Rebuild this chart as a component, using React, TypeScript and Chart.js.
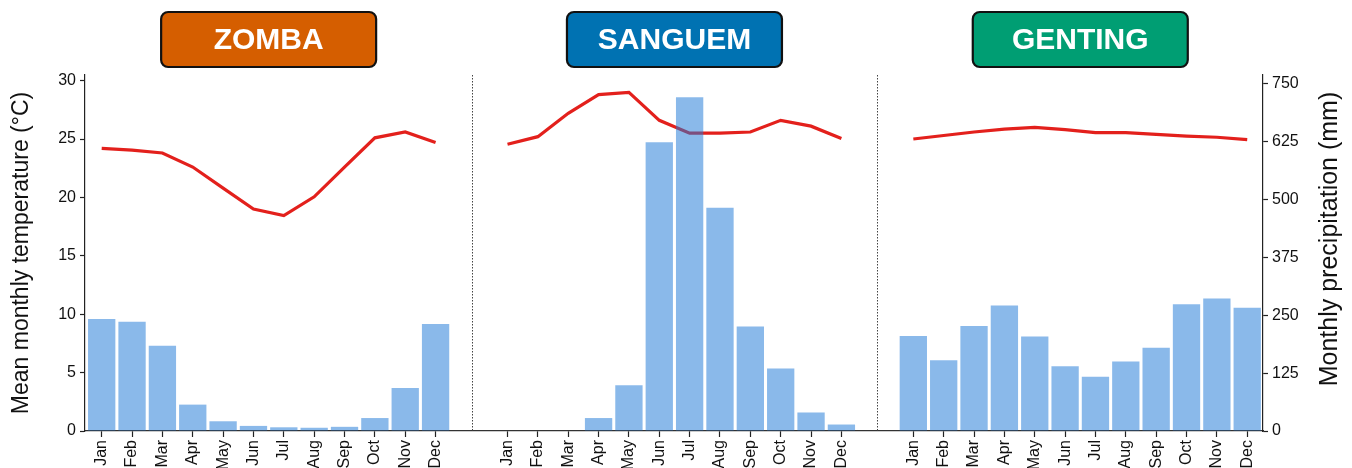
import { useEffect, useRef } from 'react';
import { Chart, registerables } from 'chart.js';

Chart.register(...registerables);

const W = 1352;
const H = 490;
const FONT = '"Liberation Sans", Arial, Helvetica, sans-serif';

const months = ['Jan', 'Feb', 'Mar', 'Apr', 'May', 'Jun', 'Jul', 'Aug', 'Sep', 'Oct', 'Nov', 'Dec'];
const stations = ['ZOMBA', 'SANGUEM', 'GENTING'];
const stationColors = ['#D55E00', '#0072B2', '#009E73'];

const zombaTemp = [24.2, 24.05, 23.8, 22.6, 20.8, 19.0, 18.45, 20.05, 22.6, 25.1, 25.6, 24.7];
const zombaPrecip = [242, 236, 184, 57, 21, 11, 8, 7, 9, 28, 93, 231];
const sanguemTemp = [24.55, 25.2, 27.2, 28.8, 29.0, 26.6, 25.5, 25.5, 25.6, 26.6, 26.1, 25.05];
const sanguemPrecip = [0, 0, 0, 28, 99, 624, 721, 482, 226, 135, 40, 14];
const gentingTemp = [25.0, 25.3, 25.6, 25.85, 26.0, 25.8, 25.55, 25.55, 25.4, 25.25, 25.15, 24.95];
const gentingPrecip = [205, 153, 227, 271, 204, 140, 117, 150, 180, 274, 286, 266];

const tempTicks = [0, 5, 10, 15, 20, 25, 30];
const precipTicks = [0, 125, 250, 375, 500, 625, 750];

const GROUP_OFFSET = 13.37;
const RED = '#E3201C';
const BAR = 'rgba(30, 120, 215, 0.52)';

export default function App() {
  const ref = useRef<HTMLCanvasElement | null>(null);

  useEffect(() => {
    const temps = [zombaTemp, sanguemTemp, gentingTemp];
    const precs = [zombaPrecip, sanguemPrecip, gentingPrecip];
    const xs = (g: number, i: number) => g * GROUP_OFFSET + i;

    const barData = precs.flatMap((arr, g) => arr.map((v, i) => ({ x: xs(g, i), y: v })));
    const lineSets = temps.map((arr, g) => ({
      type: 'line' as const,
      data: arr.map((v, i) => ({ x: xs(g, i), y: v })),
      yAxisID: 'yT',
      borderColor: RED,
      borderWidth: 3.2,
      pointRadius: 0,
      tension: 0,
      order: 1,
    }));
    const tickPositions = stations.flatMap((_, g) => months.map((_, i) => xs(g, i)));
    const dividers = [1, 2].map((g) => (xs(g - 1, 11) + xs(g, 0)) / 2);

    const overlay = {
      id: 'overlay',
      beforeDatasetsDraw(chart: any) {
        const { ctx, chartArea, scales } = chart;
        ctx.save();
        ctx.strokeStyle = '#444';
        ctx.lineWidth = 1;
        ctx.setLineDash([1.5, 1.5]);
        dividers.forEach((d) => {
          const px = Math.round(scales.x.getPixelForValue(d)) + 0.5;
          ctx.beginPath();
          ctx.moveTo(px, chartArea.top);
          ctx.lineTo(px, chartArea.bottom);
          ctx.stroke();
        });
        ctx.restore();
      },
      afterDraw(chart: any) {
        const { ctx, chartArea, scales } = chart;
        ctx.save();
        stations.forEach((name, g) => {
          const cx = scales.x.getPixelForValue((xs(g, 0) + xs(g, 11)) / 2);
          const bw = 215;
          const bh = 55;
          const bx = cx - bw / 2;
          const by = 12;
          ctx.beginPath();
          ctx.roundRect(bx, by, bw, bh, 7);
          ctx.fillStyle = stationColors[g];
          ctx.fill();
          ctx.lineWidth = 2.2;
          ctx.strokeStyle = '#111';
          ctx.stroke();
          ctx.fillStyle = '#fff';
          ctx.font = `bold 30px ${FONT}`;
          ctx.textAlign = 'center';
          ctx.textBaseline = 'middle';
          ctx.fillText(name, cx, by + bh / 2 + 1);
        });
        const cy = (chartArea.top + chartArea.bottom) / 2;
        ctx.fillStyle = '#111';
        ctx.textAlign = 'center';
        ctx.textBaseline = 'middle';
        ctx.font = `23px ${FONT}`;
        ctx.save();
        ctx.translate(22, cy);
        ctx.rotate(-Math.PI / 2);
        ctx.fillText('Mean monthly temperature (°C)', 0, 0);
        ctx.restore();
        ctx.save();
        ctx.font = `25px ${FONT}`;
        ctx.translate(1330, cy - 14);
        ctx.rotate(-Math.PI / 2);
        ctx.fillText('Monthly precipitation (mm)', 0, 0);
        ctx.restore();
        ctx.restore();
      },
    };

    const axisCommon = {
      grid: { drawOnChartArea: false, drawTicks: true, tickLength: 5, tickColor: '#222', tickWidth: 1.2 },
      border: { display: true, color: '#222', width: 1.2 },
    };

    const chart = new Chart(ref.current as HTMLCanvasElement, {
      type: 'bar',
      data: {
        datasets: [
          {
            type: 'bar',
            data: barData,
            yAxisID: 'yP',
            backgroundColor: BAR,
            barPercentage: 0.9,
            categoryPercentage: 1,
            order: 0,
          } as any,
          ...lineSets,
        ],
      },
      options: {
        responsive: false,
        animation: false,
        devicePixelRatio: 1,
        layout: { padding: { top: 75, left: 0, right: 0, bottom: 0 } },
        plugins: { legend: { display: false }, tooltip: { enabled: false } },
        scales: {
          x: {
            type: 'linear',
            min: -0.55,
            max: 38.26,
            offset: false,
            afterBuildTicks: (s: any) => {
              s.ticks = tickPositions.map((v) => ({ value: v }));
            },
            afterFit: (s: any) => {
              s.height = H - 431;
            },
            grid: { drawOnChartArea: false, drawTicks: true, tickLength: 6, tickColor: '#222', tickWidth: 1.2, offset: false },
            border: { display: true, color: '#333', width: 1.3 },
            ticks: {
              autoSkip: false,
              maxRotation: 90,
              minRotation: 90,
              padding: 3,
              color: '#111',
              font: { size: 16, family: FONT },
              callback: (_v: any, i: number) => months[i % 12],
            },
          },
          yT: {
            type: 'linear',
            position: 'left',
            min: 0,
            max: 30.48,
            afterBuildTicks: (s: any) => {
              s.ticks = tempTicks.map((v) => ({ value: v }));
            },
            afterFit: (s: any) => {
              s.width = 85;
            },
            ...axisCommon,
            ticks: { padding: 4, color: '#111', font: { size: 16, family: FONT } },
          },
          yP: {
            type: 'linear',
            position: 'right',
            min: 0,
            max: 769,
            afterBuildTicks: (s: any) => {
              s.ticks = precipTicks.map((v) => ({ value: v }));
            },
            afterFit: (s: any) => {
              s.width = W - 1263;
            },
            ...axisCommon,
            ticks: { padding: 4, color: '#111', font: { size: 16, family: FONT } },
          },
        },
      } as any,
      plugins: [overlay],
    });

    return () => chart.destroy();
  }, []);

  return (
    <div
      style={{
        position: 'fixed',
        left: 0,
        top: 0,
        width: W,
        height: 468,
        overflow: 'hidden',
        background: '#fff',
      }}
    >
      <canvas ref={ref} width={W} height={H} style={{ display: 'block', width: W, height: H }} />
    </div>
  );
}
